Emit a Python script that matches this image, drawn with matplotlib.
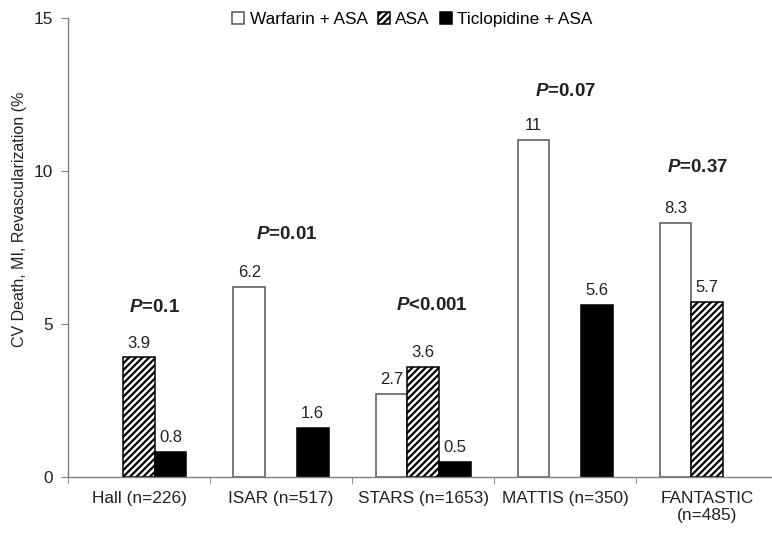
import matplotlib.pyplot as plt
import numpy as np

plt.rcParams['font.family'] = ['Liberation Sans', 'DejaVu Sans']
plt.rcParams['mathtext.fontset'] = 'custom'
plt.rcParams['mathtext.it'] = 'Liberation Sans:italic:bold'
plt.rcParams['mathtext.rm'] = 'Liberation Sans:bold'
plt.rcParams['hatch.linewidth'] = 1.6

nan = np.nan
trials = ['Hall (n=226)', 'ISAR (n=517)', 'STARS (n=1653)', 'MATTIS (n=350)', 'FANTASTIC\n(n=485)']
warfarin_asa = [nan, 6.2, 2.7, 11, 8.3]
asa = [3.9, nan, 3.6, nan, 5.7]
ticlopidine_asa = [0.8, 1.6, 0.5, 5.6, nan]
p_labels = ['$P$=0.1', '$P$=0.01', '$P$<0.001', '$P$=0.07', '$P$=0.37']
# where the p-value text sits (category position, value)
p_pos = [(0.11, 5.52), (1.04, 7.9), (2.06, 5.6), (3.0, 12.6), (3.93, 10.1)]

fig = plt.figure(figsize=(7.72, 5.34), dpi=100)
ax = fig.add_axes([0.088, 0.107, 0.92, 0.86])

x = np.arange(len(trials))
w = 0.223
text_col = '#222222'

b1 = ax.bar(x - w, warfarin_asa, w, color='white', edgecolor='#555555', linewidth=1.1,
            label='Warfarin + ASA')
b2 = ax.bar(x, asa, w, color='white', edgecolor='black', hatch='/////', linewidth=1.1,
            label='ASA')
b3 = ax.bar(x + w, ticlopidine_asa, w, color='black', edgecolor='black', linewidth=1.1,
            label='Ticlopidine + ASA')

for bars, vals in [(b1, warfarin_asa), (b2, asa), (b3, ticlopidine_asa)]:
    for rect, v in zip(bars, vals):
        if np.isnan(v):
            continue
        ax.annotate(f'{v:g}', (rect.get_x() + rect.get_width() / 2, v),
                    xytext=(0, 5), textcoords='offset points',
                    ha='center', va='bottom', fontsize=12, color=text_col)

for lab, (px, py) in zip(p_labels, p_pos):
    ax.text(px, py, lab, ha='center', va='center', fontsize=13.5,
            fontweight='bold', color=text_col)

ax.set_xlim(-0.5, 4.5)
ax.set_ylim(0, 15)
ax.set_yticks([0, 5, 10, 15])
ax.set_xticks(x)
ax.set_xticklabels(trials)
ax.set_xticks(np.arange(-0.5, 5.0, 1.0), minor=True)
ax.tick_params(axis='x', which='major', length=0, pad=10, labelsize=12.4, labelcolor=text_col)
ax.tick_params(axis='x', which='minor', length=5, color='#808080')
ax.tick_params(axis='y', length=5, color='#808080', labelsize=12.4, labelcolor=text_col, pad=6)

for s in ['top', 'right']:
    ax.spines[s].set_visible(False)
for s in ['left', 'bottom']:
    ax.spines[s].set_color('#808080')
    ax.spines[s].set_linewidth(1.0)

ax.set_ylabel('CV Death, MI, Revascularization (%', fontsize=11.5, color=text_col)
ax.yaxis.set_label_coords(-0.057, 0.56)

ax.legend(loc='center', bbox_to_anchor=(0.485, 0.996), ncol=3, frameon=False,
          fontsize=12.4, handlelength=0.7, handleheight=0.7, handletextpad=0.3,
          columnspacing=0.6, borderpad=0)

fig.savefig('out.png', dpi=100)
